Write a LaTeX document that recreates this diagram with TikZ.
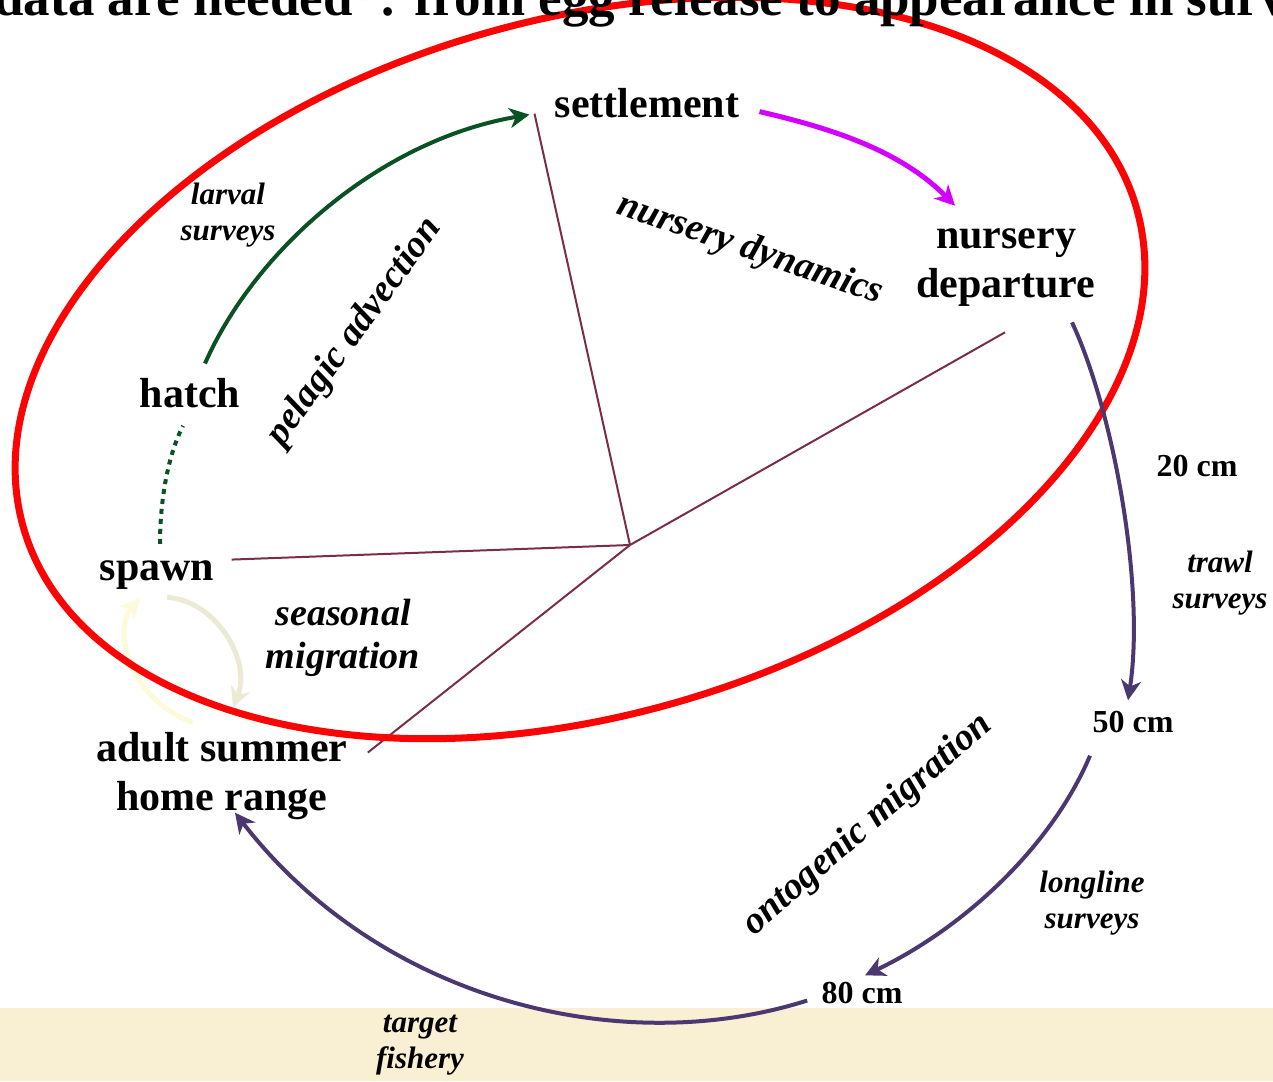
\documentclass[tikz,border=0pt]{standalone}
\usepackage{fontspec}
\setmainfont{Liberation Serif}
\usetikzlibrary{positioning,calc,arrows.meta}

\definecolor{ringred}{RGB}{250,5,5}
\definecolor{larvalgreen}{RGB}{10,82,36}
\definecolor{nurserypink}{RGB}{212,0,255}
\definecolor{growthpurple}{RGB}{76,56,112}
\definecolor{hubline}{RGB}{122,44,74}
\definecolor{fisheryband}{RGB}{249,240,212}
\definecolor{paleloop}{RGB}{252,250,218}
\definecolor{paleedge}{RGB}{236,234,212}

\begin{document}
\begin{tikzpicture}[x=0.5pt, y=-0.5pt,
    >={Stealth[length=10pt, width=10pt, inset=3pt]},
    every node/.style={inner sep=0pt, align=center},
    stage/.style={font=\bfseries\fontsize{21}{24.5}\selectfont},
    size/.style={font=\bfseries\fontsize{16}{18}\selectfont},
    survey/.style={font=\bfseries\itshape\fontsize{15.5}{18}\selectfont},
    process/.style={font=\bfseries\itshape\fontsize{19}{21.5}\selectfont},
    headline/.style={font=\bfseries\fontsize{26.5}{30}\selectfont},
    spoke/.style={draw=hubline, line width=1pt},
    larval/.style={draw=larvalgreen, line width=2pt},
    growth/.style={draw=growthpurple, line width=2pt},
    loop/.style={draw=paleloop, line width=2.5pt}]
    \useasboundingbox (0,0) rectangle (1273,1081);

    % fishery band along the bottom
    \fill[fisheryband] (0,1008) rectangle (1273,1081);

    % life stages (base = last line)
    \node[stage, anchor=base] (settle) at (647,118) {settlement};
    \node[stage, anchor=base] (nursery) at (1006,297) {nursery\\departure};
    \node[stage, anchor=base] (hatch) at (190,407) {hatch};
    \node[stage, anchor=base] (spawn) at (157,580) {spawn};
    \node[stage, anchor=base] (adult) at (222,810) {adult summer\\home range};

    % body sizes
    \node[size, anchor=base] (cm20) at (1197,476) {20 cm};
    \node[size, anchor=base] (cm50) at (1133,732) {50 cm};
    \node[size, anchor=base] (cm80) at (862,1003) {80 cm};

    % surveys
    \node[survey, anchor=base] (larvsurv) at (228,240) {larval\\surveys};
    \node[survey, anchor=base] (trawl) at (1220,608) {trawl\\surveys};
    \node[survey, anchor=base] (longline) at (1092,928) {longline\\surveys};
    \node[survey, anchor=base] (fishery) at (420,1068) {target\\fishery};

    % processes
    \node[process, anchor=base] (season) at (343,668) {seasonal\\migration};
    \node[process, rotate=54] (advect) at (355,332) {pelagic advection};
    \node[process, rotate=-19] (nursdyn) at (750,250) {nursery dynamics};
    \node[process, rotate=41] (ontomig) at (868,825) {ontogenic migration};

    % spawn <-> adult loop
    \draw[loop, draw=paleedge, ->] ([shift={(10,8)}]spawn.south) .. controls (215,600) and (252,660) .. ([shift={(11,-24)}]adult.north);
    \draw[loop, ->] ([shift={(-29,-9)}]adult.north) .. controls (130,700) and (112,630) .. ([shift={(-17,9)}]spawn.south);

    % spokes to the hub
    \coordinate (hub) at (630,545);
    \draw[spoke] ([shift={(-20,10)}]settle.west) -- (hub);
    \draw[spoke] ([shift={(-1,26)}]nursery.south) -- (hub);
    \draw[spoke] ([shift={(17,-15)}]spawn.east) -- (hub);
    \draw[spoke] ([shift={(20,-23)}]adult.east) -- (hub);

    % survey coverage
    \draw[ringred, line width=3.5pt, rotate around={16:(580,368)}] (580,368) ellipse [x radius=579, y radius=348];

    \node[headline, anchor=base west] (title) at (-6,16) {data are needed*: from egg release to appearance in surveys};

    % early life
    \draw[larval, dash pattern=on 2.5pt off 2.5pt] ([shift={(3,-16)}]spawn.north) .. controls (160,500) and (168,455) .. ([shift={(-7,18)}]hatch.south);
    \draw[larval, ->] ([shift={(15,-14)}]hatch.north) .. controls (255,250) and (380,140) .. ([shift={(-25,11)}]settle.west);
    \draw[nurserypink, line width=2.5pt, ->] ([shift={(20,8)}]settle.east) .. controls (830,128) and (900,150) .. ([shift={(-51,-22)}]nursery.north);

    % growth
    \draw[growth, ->] ([shift={(66,16)}]nursery.south) .. controls (1115,415) and (1145,590) .. ([shift={(-5,-10)}]cm50.north);
    \draw[growth, ->] ([shift={(-43,23)}]cm50.south) .. controls (1050,850) and (960,930) .. ([shift={(3,-6)}]cm80.north);
    \draw[growth, ->] ([shift={(-14,8)}]cm80.west) .. controls (620,1060) and (380,1000) .. ([shift={(13,-7)}]adult.south);
\end{tikzpicture}
\end{document}
